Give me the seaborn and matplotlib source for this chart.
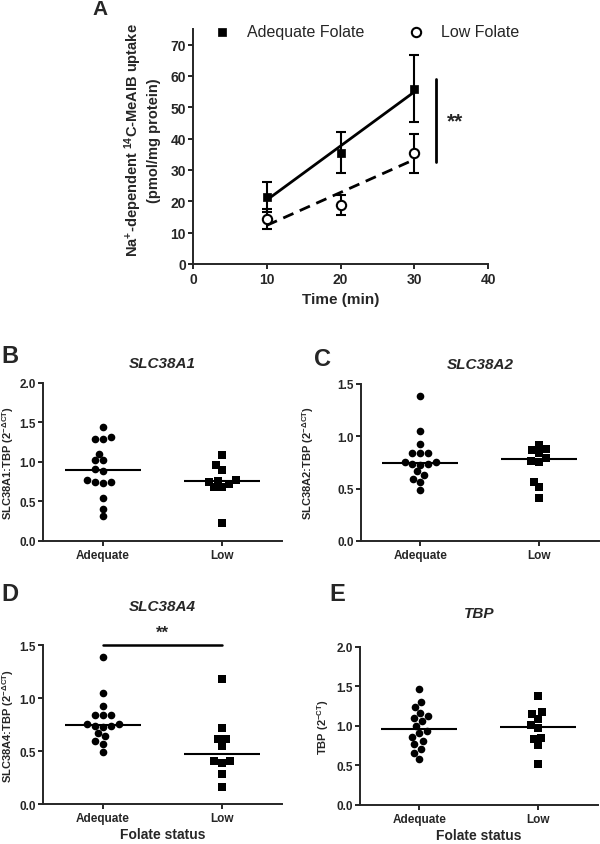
import matplotlib
matplotlib.use('Agg')
import numpy as np
import pandas as pd
import matplotlib.pyplot as plt
import seaborn as sns

# Panel A: uptake over time (mean +/- SEM)
time_min = [10, 20, 30]
adequate_uptake = [21.5, 35.5, 56.0]
adequate_sem = [4.8, 6.6, 10.8]
low_uptake = [14.3, 18.9, 35.3]
low_sem = [3.2, 3.2, 6.1]

# Panels B-E: individual values per folate group
groups = ['Adequate', 'Low']
slc38a1_adequate = [1.448, 1.293, 1.293, 1.31, 1.107, 1.019, 1.03, 0.914, 0.888,
                    0.75, 0.737, 0.75, 0.77, 0.55, 0.41, 0.31]
slc38a1_low = [1.086, 0.964, 0.90, 0.775, 0.75, 0.678, 0.678, 0.716, 0.762, 0.223]
slc38a2_adequate = [1.389, 1.047, 0.929, 0.84, 0.84, 0.84, 0.752, 0.74, 0.73,
                    0.74, 0.752, 0.634, 0.666, 0.593, 0.568, 0.485]
slc38a2_low = [0.875, 0.869, 0.92, 0.84, 0.79, 0.758, 0.767, 0.568, 0.514, 0.415]
slc38a4_adequate = [1.387, 1.047, 0.93, 0.843, 0.843, 0.843, 0.755, 0.74, 0.73,
                    0.74, 0.755, 0.638, 0.673, 0.594, 0.569, 0.49]
slc38a4_low = [1.179, 0.717, 0.61, 0.61, 0.547, 0.406, 0.384, 0.406, 0.286, 0.16]
tbp_adequate = [1.466, 1.24, 1.30, 1.17, 1.13, 1.105, 1.067, 1.0, 0.933, 0.912,
                0.86, 0.807, 0.769, 0.714, 0.66, 0.584]
tbp_low = [1.378, 1.176, 1.155, 1.092, 1.008, 0.975, 0.836, 0.845, 0.756, 0.517]

sns.set_style('ticks')
plt.rcParams['font.family'] = ['Liberation Sans', 'DejaVu Sans']
plt.rcParams['font.weight'] = 'bold'
plt.rcParams['axes.labelweight'] = 'bold'
plt.rcParams['mathtext.fontset'] = 'custom'
plt.rcParams['mathtext.rm'] = 'Liberation Sans'
plt.rcParams['mathtext.bf'] = 'Liberation Sans:bold'
plt.rcParams['mathtext.default'] = 'bf'
plt.rcParams['axes.linewidth'] = 1.4
plt.rcParams['xtick.major.width'] = 1.4
plt.rcParams['ytick.major.width'] = 1.4
plt.rcParams['xtick.major.size'] = 3.5
plt.rcParams['ytick.major.size'] = 3.5
plt.rcParams['xtick.major.pad'] = 2.5
plt.rcParams['ytick.major.pad'] = 1.5

fig = plt.figure(figsize=(6, 8.45), dpi=100)

# ---- Panel A ----
ax = fig.add_axes([0.3217, 0.6864, 0.4917, 0.2781])
sns.regplot(x=time_min, y=adequate_uptake, ci=None, scatter=False, color='k',
            line_kws={'lw': 2}, ax=ax)
sns.regplot(x=time_min, y=low_uptake, ci=None, scatter=False, color='k',
            line_kws={'lw': 2, 'ls': (0, (4, 2.5))}, ax=ax)
ax.errorbar(time_min, adequate_uptake, yerr=adequate_sem, fmt='none', ecolor='k',
            elinewidth=1.5, capsize=3.5, capthick=1.5)
ax.errorbar(time_min, low_uptake, yerr=low_sem, fmt='none', ecolor='k',
            elinewidth=1.5, capsize=3.5, capthick=1.5)
sns.scatterplot(x=time_min, y=adequate_uptake, marker='s', color='k', edgecolor='k',
                s=40, label='Adequate Folate', zorder=3, ax=ax)
sns.scatterplot(x=time_min, y=low_uptake, marker='o', color='white', edgecolor='k',
                linewidth=1.5, s=45, label='Low Folate', zorder=3, ax=ax)
ax.set_xlim(0, 40)
ax.set_ylim(0, 75)
ax.set_xticks([0, 10, 20, 30, 40])
ax.set_yticks(range(0, 71, 10))
ax.tick_params(labelsize=10)
ax.set_xlabel('Time (min)', fontsize=11)
ax.set_ylabel('Na$^{+}$-dependent $^{14}$C-MeAIB uptake\n(pmol/mg protein)', fontsize=10.5)
ax.yaxis.set_label_coords(-0.11, 0.53)
ax.plot([33, 33], [32.4, 59], color='k', lw=2)
ax.text(35.5, 45.7, '**', fontsize=15, ha='center', va='center')
ax.legend(loc='center', bbox_to_anchor=(0.575, 0.99), ncol=2, frameon=False,
          prop={'weight': 'normal', 'size': 11.5}, handletextpad=0.6, columnspacing=2.2)
sns.despine(ax=ax)
fig.text(0.167, 0.989, 'A', fontsize=15, fontweight='bold', ha='center', va='center')


def dot_panel(rect, adequate, low, ylim, ylabel, title, title_pad, label_x):
    ax = fig.add_axes(rect)
    df = pd.DataFrame({'status': ['Adequate'] * len(adequate) + ['Low'] * len(low),
                       'value': adequate + low})
    for status, marker in [('Adequate', 'o'), ('Low', 's')]:
        sns.swarmplot(data=df[df['status'] == status], x='status', y='value',
                      order=groups, marker=marker, color='k', size=5.5, ax=ax)
    sns.boxplot(data=df, x='status', y='value', order=groups, width=0.64,
                showbox=False, showcaps=False, showfliers=False,
                whiskerprops={'visible': False},
                medianprops={'color': 'k', 'lw': 1.5}, ax=ax)
    ax.set_xlim(-0.5, 1.5)
    ax.set_ylim(*ylim)
    ticks = np.arange(0, ylim[1] + 0.01, 0.5)
    ax.set_yticks(ticks)
    ax.set_yticklabels([f'{v:.1f}' for v in ticks])
    ax.tick_params(labelsize=8.5)
    ax.set_xlabel('')
    ax.set_ylabel(ylabel, fontsize=8)
    ax.yaxis.set_label_coords(label_x, 0.5)
    ax.set_title(title, fontsize=11, fontweight='bold', style='italic', pad=title_pad)
    sns.despine(ax=ax)
    return ax


ax_b = dot_panel([0.0717, 0.3586, 0.398, 0.187], slc38a1_adequate, slc38a1_low,
                 (0, 2.0), 'SLC38A1:TBP (2$^{-ΔCT}$)', 'SLC38A1', 11.5, -0.115)
ax_c = dot_panel([0.6017, 0.3586, 0.396, 0.1858], slc38a2_adequate, slc38a2_low,
                 (0, 1.5), 'SLC38A2:TBP (2$^{-ΔCT}$)', 'SLC38A2', 11.5, -0.19)
ax_d = dot_panel([0.0717, 0.0473, 0.398, 0.188], slc38a4_adequate, slc38a4_low,
                 (0, 1.5), 'SLC38A4:TBP (2$^{-ΔCT}$)', 'SLC38A4', 25, -0.115)
ax_e = dot_panel([0.60, 0.0462, 0.396, 0.187], tbp_adequate, tbp_low,
                 (0, 2.0), 'TBP (2$^{-CT}$)', 'TBP', 21.5, -0.122)

ax_d.plot([0, 1], [1.5, 1.5], color='k', lw=1.8, clip_on=False)
ax_d.text(0.5, 1.62, '**', fontsize=12, ha='center', va='center')
ax_d.set_xlabel('Folate status', fontsize=10, labelpad=2)
ax_e.set_xlabel('Folate status', fontsize=10, labelpad=2)

fig.text(0.017, 0.578, 'B', fontsize=17, fontweight='bold', ha='center', va='center')
fig.text(0.537, 0.575, 'C', fontsize=17, fontweight='bold', ha='center', va='center')
fig.text(0.017, 0.296, 'D', fontsize=17, fontweight='bold', ha='center', va='center')
fig.text(0.562, 0.296, 'E', fontsize=17, fontweight='bold', ha='center', va='center')

fig.savefig('out.png', dpi=100)
